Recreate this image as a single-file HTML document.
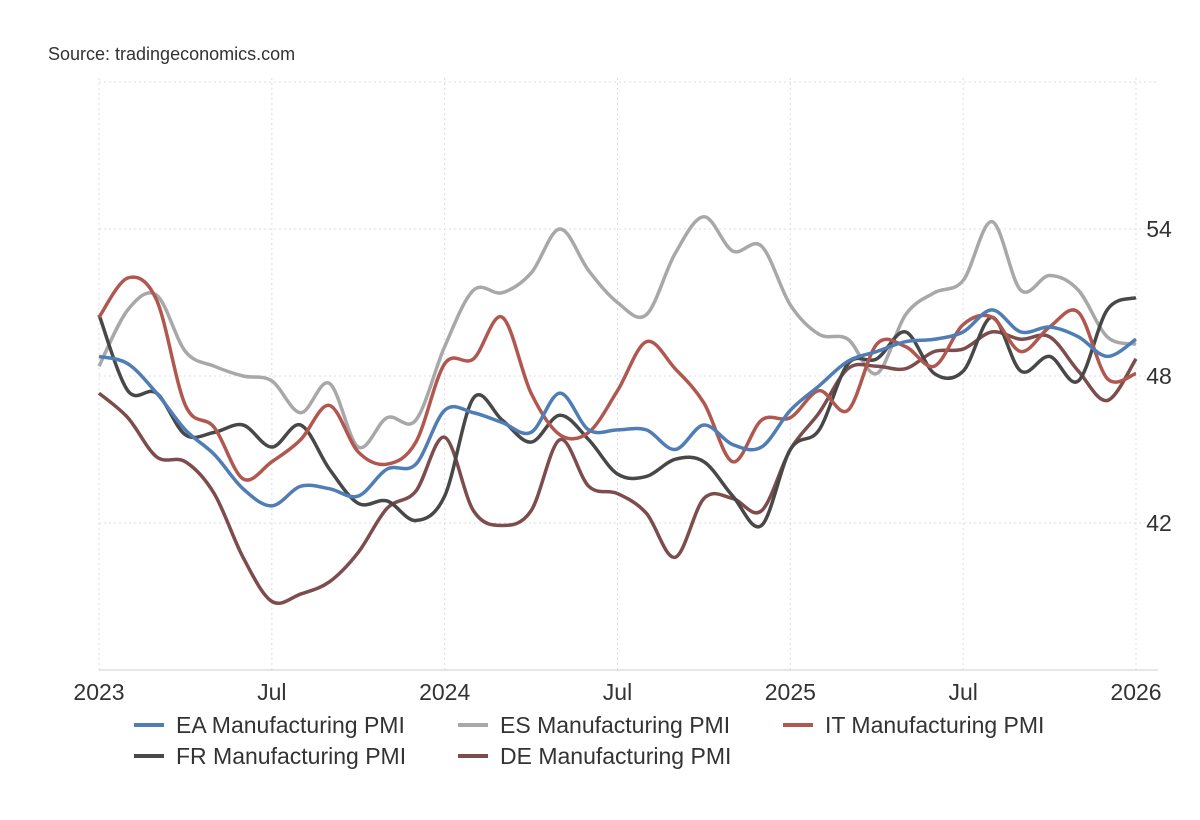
<!DOCTYPE html>
<html><head><meta charset="utf-8"><style>
body{margin:0;background:#fff;font-family:"Liberation Sans",sans-serif;}
svg{display:block}
</style></head><body>
<svg id="chart" width="1200" height="820">
<text x="48" y="60" font-size="18" fill="#333">Source: tradingeconomics.com</text>
<g id="grid"></g><g id="axes"></g><g id="lines"></g><g id="legend"></g>
</svg>
<script>
const months = 37;
const xTickLabels = ["2023","Jul","2024","Jul","2025","Jul","2026"];
const yTicks = [42,48,54];
const seriesNames = ["EA Manufacturing PMI","ES Manufacturing PMI","IT Manufacturing PMI","FR Manufacturing PMI","DE Manufacturing PMI"];
const eaValues = [48.8,48.5,47.3,45.8,44.8,43.4,42.7,43.5,43.4,43.1,44.2,44.4,46.6,46.5,46.1,45.7,47.3,45.8,45.8,45.8,45.0,46.0,45.2,45.1,46.6,47.6,48.6,49.0,49.4,49.5,49.8,50.7,49.8,50.0,49.6,48.8,49.5];
const esValues = [48.4,50.7,51.3,49.0,48.4,48.0,47.8,46.5,47.7,45.1,46.3,46.2,49.2,51.5,51.4,52.2,54.0,52.3,51.0,50.5,53.0,54.5,53.1,53.3,50.9,49.7,49.5,48.1,50.5,51.4,51.9,54.3,51.5,52.1,51.5,49.6,49.3];
const itValues = [50.4,52.0,51.1,46.8,45.9,43.8,44.5,45.4,46.8,44.9,44.4,45.3,48.5,48.7,50.4,47.3,45.6,45.7,47.4,49.4,48.3,46.9,44.5,46.2,46.3,47.4,46.6,49.3,49.2,48.4,50.1,50.4,49.0,50.0,50.6,47.9,48.1];
const frValues = [50.5,47.4,47.3,45.6,45.7,46.0,45.1,46.0,44.2,42.8,42.9,42.1,43.1,47.1,46.2,45.3,46.4,45.4,44.0,43.9,44.6,44.5,43.1,41.9,45.0,45.8,48.5,48.7,49.8,48.1,48.2,50.4,48.2,48.8,47.8,50.7,51.2];
const deValues = [47.3,46.3,44.7,44.5,43.2,40.6,38.8,39.1,39.6,40.8,42.6,43.3,45.5,42.5,41.9,42.5,45.4,43.5,43.2,42.4,40.6,43.0,43.0,42.5,45.0,46.5,48.3,48.4,48.3,49.0,49.1,49.8,49.5,49.6,48.2,47.0,48.7];
const colors = ["#4f7db5","#a8a8a8","#b0584f","#484848","#7d4c4c"];
const allValues=[eaValues,esValues,itValues,frValues,deValues];
const X0=99,X1=1136,Y0=670,Y1=82,VMIN=36,VMAX=60;
const xs=i=>X0+(X1-X0)*i/(months-1);
const ys=v=>Y0-(v-VMIN)/(VMAX-VMIN)*(Y0-Y1);
const NS="http://www.w3.org/2000/svg";
function mk(tag,attrs,parent){const e=document.createElementNS(NS,tag);for(const k in attrs)e.setAttribute(k,attrs[k]);parent.appendChild(e);return e;}
const grid=document.getElementById('grid'),axes=document.getElementById('axes'),lines=document.getElementById('lines'),legend=document.getElementById('legend');
xTickLabels.forEach((t,k)=>{const x=xs(k*6);
 const l=mk('line',{x1:x,x2:x,y1:78,y2:Y0,stroke:'#dcdcdc','stroke-dasharray':'2,3'},grid);
 
 
 const tx=mk('text',{x:x,y:700,'font-size':23,fill:'#333','text-anchor':'middle'},axes);tx.textContent=t;
 
 
});
[VMAX].concat(yTicks).forEach(v=>{const y=ys(v);
 const l=mk('line',{x1:X0,x2:1158,y1:y,y2:y,stroke:'#dcdcdc','stroke-dasharray':'2,3'},grid);
 
 
});
yTicks.forEach(v=>{const tx=mk('text',{x:1159,y:ys(v)+8,'font-size':23,fill:'#333','text-anchor':'middle'},axes);tx.textContent=v;
 
 
});
const ax=mk('line',{x1:X0,x2:1158,y1:Y0,y2:Y0,stroke:'#ccc'},axes);


function smooth(vals){const p=vals.map((v,i)=>[xs(i),ys(v)]);let d=`M${p[0][0]},${p[0][1]}`;
 for(let i=0;i<p.length-1;i++){const p0=p[i-1]||p[i],p1=p[i],p2=p[i+1],p3=p[i+2]||p2;
  d+=` C${p1[0]+(p2[0]-p0[0])/6},${p1[1]+(p2[1]-p0[1])/6} ${p2[0]-(p3[0]-p1[0])/6},${p2[1]-(p3[1]-p1[1])/6} ${p2[0]},${p2[1]}`;}
 return d;}
const order=[1,4,3,2,0];
order.forEach(s=>{const pth=mk('path',{d:smooth(allValues[s]),fill:'none',stroke:colors[s],'stroke-width':3.5,'stroke-linejoin':'round'},lines);
 
 
});
const legPos=[[134,725],[458,725],[783,725],[134,756],[458,756]];
seriesNames.forEach((n,s)=>{const [x,y]=legPos[s];
 const g=mk('g',{},legend);
 
 
 mk('line',{x1:x,x2:x+30,y1:y,y2:y,stroke:colors[s],'stroke-width':4},g);
 const t=mk('text',{x:x+42,y:y+8,'font-size':23,fill:'#333'},g);t.textContent=n;
});
</script>
</body></html>
